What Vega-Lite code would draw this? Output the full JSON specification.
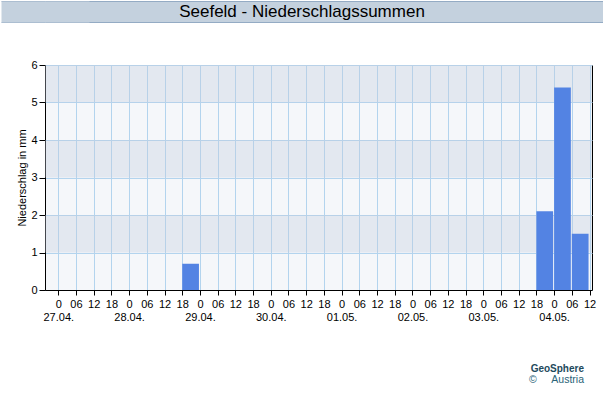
{
  "$schema": "https://vega.github.io/schema/vega-lite/v6.json",
  "padding": 0,
  "background": "white",
  "columns": 1,
  "align": "none",
  "spacing": 35,
  "config": {
    "font": "Liberation Sans",
    "axis": {
      "labelColor": "#000000",
      "titleColor": "#000000",
      "tickColor": "#000000",
      "domainColor": "#000000",
      "labelFontSize": 11,
      "titleFontSize": 11,
      "titleFontWeight": "normal",
      "gridColor": "#b3d4ee",
      "gridOpacity": 1
    }
  },
  "concat": [
    {
      "width": 558,
      "height": 21,
      "view": {"fill": "#c4d1de", "stroke": "#94abc4"},
      "data": {"values": [{"t": "Seefeld - Niederschlagssummen"}]},
      "mark": {"type": "text", "fontSize": 17, "color": "#000000", "dx": -22},
      "encoding": {
        "text": {"field": "t", "type": "nominal"},
        "y": {
          "datum": 0.5, "type": "quantitative",
          "scale": {"domain": [0, 1], "nice": false},
          "axis": {"title": null, "labels": false, "grid": false, "values": [0, 1], "tickSize": 44, "tickWidth": 1, "tickColor": "#94abc4", "domainColor": "#c4d1de", "domainWidth": 88}
        }
      }
    },
    {
      "width": 547,
      "height": 225,
      "view": {"fill": "#f5f7fa", "stroke": "#000000"},
      "title": {
        "text": "GeoSphere",
        "subtitle": "©\u00a0\u00a0\u00a0\u00a0\u00a0Austria\u00a0\u00a0\u00a0",
        "orient": "bottom",
        "anchor": "end",
        "align": "right",
        "frame": "group",
        "dx": -8,
        "offset": 42,
        "fontSize": 10,
        "fontWeight": "bold",
        "color": "#1e4a5c",
        "subtitleFontSize": 10.5,
        "subtitleColor": "#2a6478",
        "subtitlePadding": 1
      },
      "layer": [
        {
          "data": {"values": [{"lo": 1, "hi": 2}, {"lo": 3, "hi": 4}, {"lo": 5, "hi": 6}]},
          "mark": {"type": "rect", "color": "#c2ccdd", "opacity": 0.35},
          "encoding": {
            "y": {
              "field": "lo", "type": "quantitative",
              "scale": {"domain": [0, 6], "nice": false},
              "axis": {"title": ["", "Niederschlag in mm"], "titleLineHeight": 13.5, "values": [0, 1, 2, 3, 4, 5, 6], "tickSize": 6, "labelPadding": 2, "titlePadding": 3}
            },
            "y2": {"field": "hi"}
          }
        },
        {
          "data": {"values": [
            {"start": "2025-04-27T00:00:00Z", "end": "2025-04-27T06:00:00Z", "mm": 0},
            {"start": "2025-04-27T06:00:00Z", "end": "2025-04-27T12:00:00Z", "mm": 0},
            {"start": "2025-04-27T12:00:00Z", "end": "2025-04-27T18:00:00Z", "mm": 0},
            {"start": "2025-04-27T18:00:00Z", "end": "2025-04-28T00:00:00Z", "mm": 0},
            {"start": "2025-04-28T00:00:00Z", "end": "2025-04-28T06:00:00Z", "mm": 0},
            {"start": "2025-04-28T06:00:00Z", "end": "2025-04-28T12:00:00Z", "mm": 0},
            {"start": "2025-04-28T12:00:00Z", "end": "2025-04-28T18:00:00Z", "mm": 0},
            {"start": "2025-04-28T18:00:00Z", "end": "2025-04-29T00:00:00Z", "mm": 0.7},
            {"start": "2025-04-29T00:00:00Z", "end": "2025-04-29T06:00:00Z", "mm": 0},
            {"start": "2025-04-29T06:00:00Z", "end": "2025-04-29T12:00:00Z", "mm": 0},
            {"start": "2025-04-29T12:00:00Z", "end": "2025-04-29T18:00:00Z", "mm": 0},
            {"start": "2025-04-29T18:00:00Z", "end": "2025-04-30T00:00:00Z", "mm": 0},
            {"start": "2025-04-30T00:00:00Z", "end": "2025-04-30T06:00:00Z", "mm": 0},
            {"start": "2025-04-30T06:00:00Z", "end": "2025-04-30T12:00:00Z", "mm": 0},
            {"start": "2025-04-30T12:00:00Z", "end": "2025-04-30T18:00:00Z", "mm": 0},
            {"start": "2025-04-30T18:00:00Z", "end": "2025-05-01T00:00:00Z", "mm": 0},
            {"start": "2025-05-01T00:00:00Z", "end": "2025-05-01T06:00:00Z", "mm": 0},
            {"start": "2025-05-01T06:00:00Z", "end": "2025-05-01T12:00:00Z", "mm": 0},
            {"start": "2025-05-01T12:00:00Z", "end": "2025-05-01T18:00:00Z", "mm": 0},
            {"start": "2025-05-01T18:00:00Z", "end": "2025-05-02T00:00:00Z", "mm": 0},
            {"start": "2025-05-02T00:00:00Z", "end": "2025-05-02T06:00:00Z", "mm": 0},
            {"start": "2025-05-02T06:00:00Z", "end": "2025-05-02T12:00:00Z", "mm": 0},
            {"start": "2025-05-02T12:00:00Z", "end": "2025-05-02T18:00:00Z", "mm": 0},
            {"start": "2025-05-02T18:00:00Z", "end": "2025-05-03T00:00:00Z", "mm": 0},
            {"start": "2025-05-03T00:00:00Z", "end": "2025-05-03T06:00:00Z", "mm": 0},
            {"start": "2025-05-03T06:00:00Z", "end": "2025-05-03T12:00:00Z", "mm": 0},
            {"start": "2025-05-03T12:00:00Z", "end": "2025-05-03T18:00:00Z", "mm": 0},
            {"start": "2025-05-03T18:00:00Z", "end": "2025-05-04T00:00:00Z", "mm": 2.1},
            {"start": "2025-05-04T00:00:00Z", "end": "2025-05-04T06:00:00Z", "mm": 5.4},
            {"start": "2025-05-04T06:00:00Z", "end": "2025-05-04T12:00:00Z", "mm": 1.5}
          ]},
          "mark": {"type": "rect", "color": "#5383e3", "x2Offset": -1},
          "encoding": {
            "x": {
              "field": "start", "type": "temporal",
              "scale": {"type": "utc", "domain": [1745695800000, 1746363000000]},
              "axis": {
                "title": null,
                "values": [1745712000000, 1745733600000, 1745755200000, 1745776800000, 1745798400000, 1745820000000, 1745841600000, 1745863200000, 1745884800000, 1745906400000, 1745928000000, 1745949600000, 1745971200000, 1745992800000, 1746014400000, 1746036000000, 1746057600000, 1746079200000, 1746100800000, 1746122400000, 1746144000000, 1746165600000, 1746187200000, 1746208800000, 1746230400000, 1746252000000, 1746273600000, 1746295200000, 1746316800000, 1746338400000, 1746360000000],
                "labelExpr": "utchours(datum.value) == 0 ? ['0', utcFormat(datum.value, '%d.%m.')] : utcFormat(datum.value, '%H')",
                "labelOverlap": false,
                "labelFlush": false,
                "labelBound": false,
                "tickSize": 5,
                "labelPadding": 3,
                "labelLineHeight": 13
              }
            },
            "x2": {"field": "end"},
            "y": {
              "field": "mm", "type": "quantitative",
              "scale": {"domain": [0, 6], "nice": false},
              "axis": {"title": ["", "Niederschlag in mm"], "titleLineHeight": 13.5, "values": [0, 1, 2, 3, 4, 5, 6], "tickSize": 6, "labelPadding": 2, "titlePadding": 3}
            },
            "y2": {"datum": 0}
          }
        }
      ]
    }
  ]
}
